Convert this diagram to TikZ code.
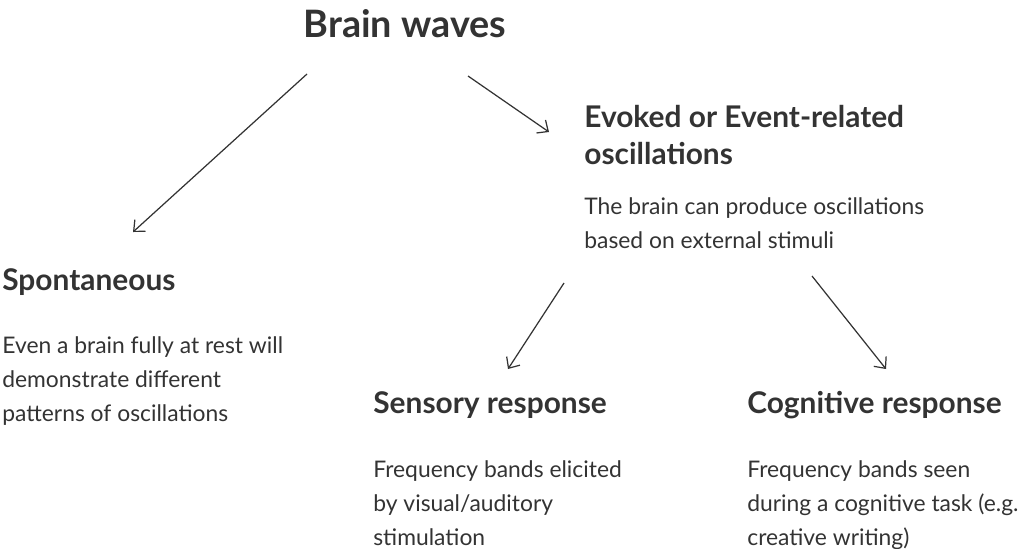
\documentclass[tikz,border=0pt]{standalone}
\usepackage{fontspec}
\setmainfont{Lato}
\usetikzlibrary{arrows.meta}
\definecolor{ink}{HTML}{333333}
\begin{document}
\begin{tikzpicture}[x=0.02cm,y=-0.02cm,
 title/.style={anchor=base,font=\fontsize{21.5}{26}\selectfont\bfseries,text=ink,inner sep=0},
 head/.style={anchor=base west,align=left,font=\fontsize{17}{21}\selectfont\bfseries,text=ink,inner sep=0},
 body/.style={anchor=base west,align=left,font=\fontsize{13}{19.3}\selectfont,text=ink,inner sep=0},
 arr/.style={-{Straight Barb[length=5pt,width=9pt]},ink,line width=0.7pt}]
\useasboundingbox (0,0) rectangle (1024,548);
\node[title] (bw) at (405,37) {Brain waves};
\node[head] (sp) at (2,290) {Spontaneous};
\node[body] (spb) at (2,421) {Even a brain fully at rest will\\demonstrate different\\patterns of oscillations};
\node[head] (ev) at (584,164) {Evoked or Event-related\\oscillations};
\node[body] (evb) at (584,248) {The brain can produce oscillations\\based on external stimuli};
\node[head] (se) at (373,413) {Sensory response};
\node[body] (seb) at (373,545) {Frequency bands elicited\\by visual/auditory\\stimulation};
\node[head] (co) at (747,413) {Cognitive response};
\node[body] (cob) at (747,545) {Frequency bands seen\\during a cognitive task (e.g.\\creative writing)};
\coordinate (a1) at (307,74); \coordinate (b1) at (133,232);
\coordinate (a2) at (468,76); \coordinate (b2) at (549,132);
\coordinate (a3) at (564,283); \coordinate (b3) at (508,369);
\coordinate (a4) at (812,276); \coordinate (b4) at (886,369);
\draw[arr] (a1) -- (b1);
\draw[arr] (a2) -- (b2);
\draw[arr] (a3) -- (b3);
\draw[arr] (a4) -- (b4);
\end{tikzpicture}
\end{document}
